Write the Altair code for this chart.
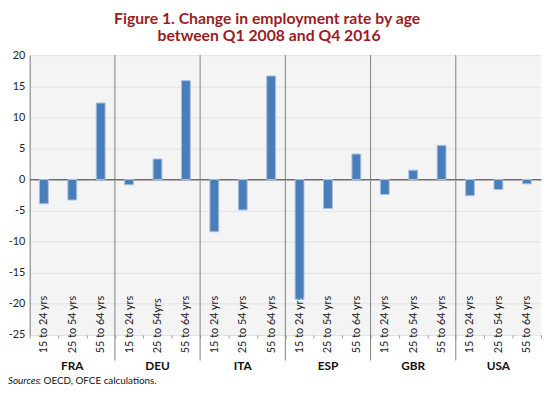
import altair as alt
import pandas as pd

countries = ["FRA", "DEU", "ITA", "ESP", "GBR", "USA"]
age_labels = [
    "15 to 24 yrs", "25 to  54 yrs", "55 to 64 yrs",
    "15 to 24 yrs", "25 to 54yrs", "55 to 64 yrs",
    "15 to 24 yrs", "25 to 54 yrs", "55 to 64 yrs",
    "15 to 24 yrs", "25 to 54 yrs", "55 to 64 yrs",
    "15 to 24 yrs", "25 to 54 yrs", "55 to 64 yrs",
    "15 to 24 yrs", "25 to 54 yrs", "55 to 64 yrs",
]
values = [-3.9, -3.3, 12.3,
          -0.85, 3.3, 15.9,
          -8.4, -4.9, 16.65,
          -19.25, -4.65, 4.1,
          -2.4, 1.5, 5.5,
          -2.6, -1.6, -0.7]
y_ticks = [20, 15, 10, 5, 0, -5, -10, -15, -20, -25]
title_lines = ["Figure 1. Change in employment rate by age", "between Q1 2008 and Q4 2016"]

country_col = [c for c in countries for _ in range(3)]
keys = [f"{c}|{a}" for c, a in zip(country_col, age_labels)]
df = pd.DataFrame({"key": keys, "country": country_col, "value": values})

W, H = 519, 284
yscale = alt.Scale(domain=[-25, 20], nice=False)
xscale = alt.Scale(domain=keys, paddingInner=0, paddingOuter=0)

x_axis = alt.Axis(
    title=None, labelAngle=270, labelAlign="left", labelBaseline="middle",
    labelPadding=15, labelExpr="split(datum.label, '|')[1]",
    labelFont="Lato", labelFontSize=11, labelColor="#222",
    domain=False, ticks=True, tickBand="extent", tickSize=3, tickColor="#999",
    grid=False, labelOverlap=False,
)
y_axis = alt.Axis(
    title=None, values=y_ticks, labelFont="Lato", labelFontSize=11,
    labelColor="#222", labelPadding=5, ticks=False, domain=True,
    labelExpr="replace(datum.label, '\u2212', '-')",
    labelOverlap=False, labelBound=False, labelFlush=False,
    domainColor="#777", grid=True,
    gridColor=alt.condition("datum.value == 0", alt.value("#6e6e6e"), alt.value("#e2e2e2")),
    gridWidth=alt.condition("datum.value == 0", alt.value(1.6), alt.value(1)),
)

bars = alt.Chart(df).mark_bar(
    width=9, color="#4a7ebb", stroke="#a9c1e3", strokeWidth=1
).encode(
    x=alt.X("key:N", sort=keys, scale=xscale, axis=x_axis),
    y=alt.Y("value:Q", scale=yscale, axis=y_axis),
)

sep_df = pd.DataFrame({"key": [k for k in keys[3::3]]})
seps = alt.Chart(sep_df).mark_rule(color="#808080", strokeWidth=1).encode(
    x=alt.X("key:N", sort=keys, scale=xscale, bandPosition=0),
    y=alt.value(0), y2=alt.value(310),
)

grp_df = pd.DataFrame({"key": keys[1::3], "country": countries})
grp = alt.Chart(grp_df).mark_text(
    font="Lato", fontSize=12, fontWeight="bold", color="#111", baseline="middle"
).encode(
    x=alt.X("key:N", sort=keys, scale=xscale),
    y=alt.value(316), text="country:N",
)

t1 = alt.Chart(pd.DataFrame({"t": [title_lines[0]]})).mark_text(
    font="Lato", fontSize=16, fontWeight="bold", color="#9b1c24", align="center", baseline="middle"
).encode(x=alt.value(241), y=alt.value(-37), text="t:N")
t2 = alt.Chart(pd.DataFrame({"t": [title_lines[1]]})).mark_text(
    font="Lato", fontSize=16, fontWeight="bold", color="#9b1c24", align="center", baseline="middle"
).encode(x=alt.value(243), y=alt.value(-19), text="t:N")

src1 = alt.Chart(pd.DataFrame({"t": ["Sources"]})).mark_text(
    font="Lato", fontSize=10, fontStyle="italic", align="left", baseline="middle", color="#111"
).encode(x=alt.value(-22), y=alt.value(331), text="t:N")
src2 = alt.Chart(pd.DataFrame({"t": [": OECD, OFCE calculations."]})).mark_text(
    font="Lato", fontSize=10, align="left", baseline="middle", color="#111"
).encode(x=alt.value(9), y=alt.value(331), text="t:N")

chart = alt.layer(bars, seps, grp, t1, t2, src1, src2).properties(
    width=W, height=H,
    autosize=alt.AutoSizeParams(type="none"),
    padding={"left": 22, "top": 45, "right": 1, "bottom": 51},
).configure_view(stroke=None, fill="#f4f4f4")

chart.save("out.html", embed_options={"renderer": "svg", "actions": False})
